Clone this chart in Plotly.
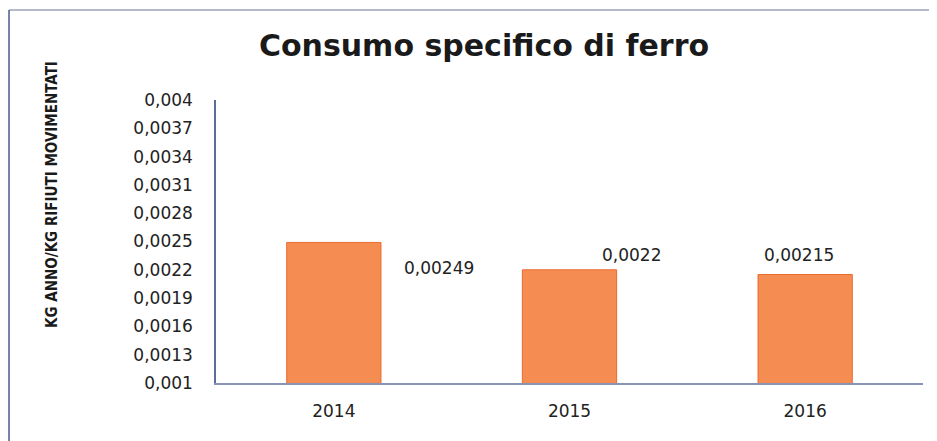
import plotly.graph_objects as go

years = ["2014", "2015", "2016"]
values = [0.00249, 0.0022, 0.00215]
value_labels = ["0,00249", "0,0022", "0,00215"]
tick_vals = [0.001, 0.0013, 0.0016, 0.0019, 0.0022, 0.0025, 0.0028, 0.0031, 0.0034, 0.0037, 0.004]
tick_text = ["0,001", "0,0013", "0,0016", "0,0019", "0,0022", "0,0025", "0,0028", "0,0031", "0,0034", "0,0037", "0,004"]

font_main = "DejaVu Sans, Verdana, sans-serif"

# The page body has an 8px default margin; size the figure so the visible
# window (937x441) matches the reference.
W, H = 929, 433
L, T, R, B = 208, 92, 14, 58
pw, ph = W - L - R, H - T - B

fig = go.Figure()
fig.add_trace(go.Bar(
    x=years, y=values, base=0,
    width=0.4,
    marker=dict(color="#F58C52", line=dict(color="#EA6B2E", width=1)),
    showlegend=False,
))

# data labels (offsets follow the reference placement)
label_shift = [(105, -26), (62, 15), (-6, 20)]
for i, (v, t, (dx, dy)) in enumerate(zip(values, value_labels, label_shift)):
    fig.add_annotation(x=i, y=v, text=t, showarrow=False,
                       xshift=dx, yshift=dy,
                       font=dict(family=font_main, size=17, color="#222"))

# y-axis title
fig.add_annotation(xref="paper", yref="paper", x=(52 - 8 - L) / pw, y=(375 - 187) / ph,
                   xanchor="center", yanchor="middle",
                   text="<b>KG ANNO/KG RIFIUTI MOVIMENTATI</b>", textangle=-90,
                   showarrow=False,
                   font=dict(family="DejaVu Sans Condensed, DejaVu Sans, sans-serif",
                             size=15, color="#1a1a1a"))

fig.update_layout(
    width=W, height=H,
    margin=dict(l=L, r=R, t=T, b=B, autoexpand=False),
    paper_bgcolor="white", plot_bgcolor="white",
    title=dict(text="<b>Consumo specifico di ferro</b>", x=(484 - 8) / W, xanchor="center",
               y=1 - 37 / H, yanchor="middle",
               font=dict(family=font_main, size=30, color="#1a1a1a")),
    xaxis=dict(type="category", categoryarray=years, range=[-0.5, 2.5],
               showline=True, linecolor="#8893B5", linewidth=1.5,
               tickfont=dict(family=font_main, size=17, color="#222"),
               ticks="", ticklabelstandoff=12, automargin=False),
    yaxis=dict(range=[0.001, 0.004], tickvals=tick_vals, ticktext=tick_text,
               showgrid=False, zeroline=False,
               showline=True, linecolor="#5D6D9A", linewidth=1.5,
               tickfont=dict(family=font_main, size=17, color="#222"),
               ticks="", ticklabelstandoff=18, automargin=False),
    showlegend=False,
)

# frame: only top and left edges are visible in the reference
fig.add_shape(type="line", xref="paper", yref="paper",
              x0=(1 - L) / pw, x1=(W - L) / pw, y0=1 + (T - 2) / ph, y1=1 + (T - 2) / ph,
              line=dict(color="#9AA3BA", width=1.5))
fig.add_shape(type="line", xref="paper", yref="paper",
              x0=(1 - L) / pw, x1=(1 - L) / pw, y0=-B / ph, y1=1 + (T - 2) / ph,
              line=dict(color="#4A5A8A", width=1.5))

fig.write_html("out.html")
